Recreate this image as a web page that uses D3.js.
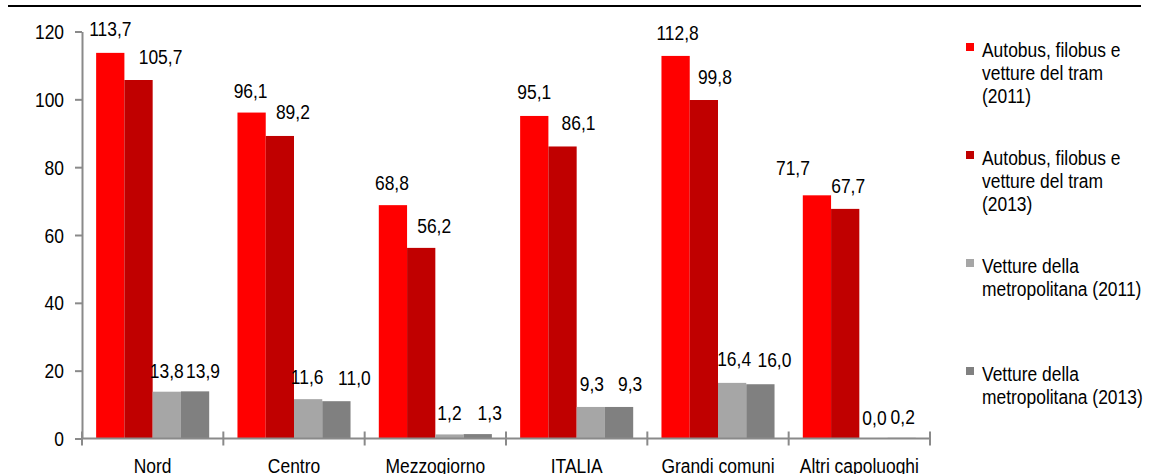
<!DOCTYPE html>
<html>
<head>
<meta charset="utf-8">
<script src="https://cdn.jsdelivr.net/npm/d3@7/dist/d3.min.js"></script>
<style>
  html, body { margin: 0; padding: 0; background: #fff; }
  svg { display: block; }
  text { font-family: "Liberation Sans", Arial, sans-serif; fill: #000; }
</style>
</head>
<body>
<svg id="chart" width="1152" height="474"></svg>
<script>
// Categories (territorial breakdown)
const categories = ["Nord", "Centro", "Mezzogiorno", "ITALIA", "Grandi comuni", "Altri capoluoghi"];

// Series names, one per legend entry (lines split for wrapping)
const seriesNames = [
  ["Autobus, filobus e", "vetture del tram", "(2011)"],
  ["Autobus, filobus e", "vetture del tram", "(2013)"],
  ["Vetture della", "metropolitana (2011)"],
  ["Vetture della", "metropolitana (2013)"]
];

// Series values, one per category
const bus2011   = [113.7, 96.1, 68.8, 95.1, 112.8, 71.7];
const bus2013   = [105.7, 89.2, 56.2, 86.1, 99.8, 67.7];
const metro2011 = [13.8, 11.6, 1.2, 9.3, 16.4, 0.0];
const metro2013 = [13.9, 11.0, 1.3, 9.3, 16.0, 0.2];

// Y axis tick values
const yTicks = [0, 20, 40, 60, 80, 100, 120];

const seriesValues = [bus2011, bus2013, metro2011, metro2013];
const colors = ["#FF0000", "#C00000", "#A6A6A6", "#808080"];

// Small label nudges [dx, dy] relative to each bar's centre / top, to keep
// neighbouring value labels from colliding
const labelNudge = [
  [[0, -24], [22, -24], [0, -21], [8, -21]],
  [[-1, -22], [13, -24], [-1, -23], [18, -24]],
  [[-1, -23], [13, -22], [0, -22], [12, -22]],
  [[0, -24], [16, -24], [1, -23], [11, -23]],
  [[2, -23], [11, -24], [2, -24], [14, -25]],
  [[-24, -28], [3, -23], [1, -21], [1, -21]]
];

const fmt = v => d3.format(".1f")(v).replace(".", ",");

const svg = d3.select("#chart");
const axisColor = "#8a8a8a";
const fs = 21;
const squeeze = 0.83;   // condensed look for all text
const place = (x, yy) => `translate(${x},${yy}) scale(${squeeze},1)`;

const plot = { left: 82, right: 930, top: 31.5, bottom: 438.5 };

const x0 = d3.scaleBand().domain(categories).range([plot.left, plot.right]).padding(0);
const bw = x0.bandwidth();
const x1 = d3.scaleBand().domain(d3.range(seriesValues.length)).range([bw * 0.1, bw * 0.9]).padding(0);
const y = d3.scaleLinear().domain([0, 120]).range([plot.bottom, plot.top]);

// Rule across the top
svg.append("line")
  .attr("x1", 8).attr("x2", 1141).attr("y1", 6).attr("y2", 6)
  .attr("stroke", "#000").attr("stroke-width", 2);

// Bars
const groups = svg.append("g").selectAll("g")
  .data(categories)
  .join("g")
  .attr("transform", d => `translate(${x0(d)},0)`);

groups.selectAll("rect")
  .data((c, ci) => seriesValues.map((s, si) => ({ si, ci, v: s[ci] })))
  .join("rect")
  .attr("x", d => x1(d.si))
  .attr("width", x1.bandwidth())
  .attr("y", d => y(d.v))
  .attr("height", d => y(0) - y(d.v))
  .attr("fill", d => colors[d.si]);

// Value labels
groups.selectAll("text.val")
  .data((c, ci) => seriesValues.map((s, si) => ({ si, ci, v: s[ci] })))
  .join("text")
  .attr("class", "val")
  .attr("text-anchor", "middle")
  .attr("font-size", fs)
  .attr("transform", d => place(
    x1(d.si) + x1.bandwidth() / 2 + labelNudge[d.ci][d.si][0],
    y(d.v) + labelNudge[d.ci][d.si][1] + fs * 0.358))
  .text(d => fmt(d.v));

// Y axis
const yAxis = svg.append("g")
  .attr("transform", `translate(${plot.left},0)`)
  .call(d3.axisLeft(y).tickValues(yTicks).tickSize(7).tickFormat("").tickSizeOuter(0));
yAxis.select(".domain").attr("stroke", axisColor).attr("stroke-width", 2);
yAxis.selectAll(".tick line").attr("stroke", axisColor).attr("stroke-width", 2);
yAxis.selectAll(".tick text").remove();
svg.append("g").selectAll("text")
  .data(yTicks)
  .join("text")
  .attr("text-anchor", "end")
  .attr("font-size", fs)
  .attr("transform", d => place(plot.left - 18, y(d) + fs * 0.358))
  .text(d => d);

// X axis: ticks at category boundaries, crossing the axis line
const xAxisG = svg.append("g");
xAxisG.append("line")
  .attr("x1", plot.left).attr("x2", plot.right)
  .attr("y1", y(0)).attr("y2", y(0))
  .attr("stroke", axisColor).attr("stroke-width", 2);
const boundaries = categories.map(c => x0(c)).concat([x0(categories[categories.length - 1]) + bw]);
xAxisG.selectAll("line.tk")
  .data(boundaries)
  .join("line")
  .attr("class", "tk")
  .attr("x1", d => d).attr("x2", d => d)
  .attr("y1", y(0) - 7).attr("y2", y(0) + 7)
  .attr("stroke", axisColor).attr("stroke-width", 2);
xAxisG.selectAll("text")
  .data(categories)
  .join("text")
  .attr("text-anchor", "middle")
  .attr("font-size", fs)
  .attr("transform", d => place(x0(d) + bw / 2, y(0) + 34))
  .text(d => d);

// Legend
const legend = svg.append("g").attr("transform", "translate(966,57)");
const entries = legend.selectAll("g")
  .data(seriesNames)
  .join("g")
  .attr("transform", (d, i) => `translate(0,${i * 108})`);
entries.append("rect")
  .attr("x", 0).attr("y", -14).attr("width", 8).attr("height", 8)
  .attr("fill", (d, i) => colors[i]);
entries.append("text")
  .attr("font-size", fs)
  .attr("transform", place(16, 0))
  .selectAll("tspan")
  .data(d => d)
  .join("tspan")
  .attr("x", 0)
  .attr("y", (d, i) => i * 23)
  .text(d => d);
</script>
</body>
</html>
